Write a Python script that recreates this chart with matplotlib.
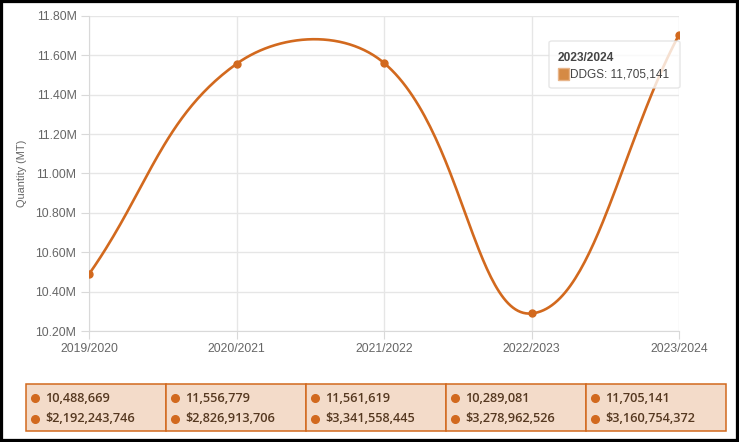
import numpy as np
import matplotlib
matplotlib.use("Agg")
import matplotlib.pyplot as plt
from matplotlib.patches import Rectangle, FancyBboxPatch
from matplotlib.lines import Line2D

# data
seasons = ["2019/2020", "2020/2021", "2021/2022", "2022/2023", "2023/2024"]
quantity = [10488669, 11556779, 11561619, 10289081, 11705141]
value_usd = [2192243746, 2826913706, 3341558445, 3278962526, 3160754372]
y_ticks = [10.2e6, 10.4e6, 10.6e6, 10.8e6, 11.0e6, 11.2e6, 11.4e6, 11.6e6, 11.8e6]

W, H = 739, 442
orange = "#d2691e"
ymin, ymax = 10.2e6, 11.8e6

fig = plt.figure(figsize=(W / 100, H / 100), dpi=100)
ax = fig.add_axes([89 / W, (H - 331) / H, 590 / W, 315 / H])

x = np.arange(len(seasons))
y = np.array(quantity, dtype=float)

# chart.js style bezier (tension 0.4), computed in pixel space
sx = 590 / (len(seasons) - 1)
sy = 315 / (ymax - ymin)
px = x * sx
py = (y - ymin) * sy
n = len(px)
cps = []
for i in range(n):
    prev = (px[max(i - 1, 0)], py[max(i - 1, 0)])
    nxt = (px[min(i + 1, n - 1)], py[min(i + 1, n - 1)])
    cur = (px[i], py[i])
    d01 = np.hypot(cur[0] - prev[0], cur[1] - prev[1])
    d12 = np.hypot(nxt[0] - cur[0], nxt[1] - cur[1])
    s01 = d01 / (d01 + d12) if d01 + d12 else 0
    s12 = d12 / (d01 + d12) if d01 + d12 else 0
    fa, fb = 0.4 * s01, 0.4 * s12
    c1 = (cur[0] - fa * (nxt[0] - prev[0]), cur[1] - fa * (nxt[1] - prev[1]))
    c2 = (cur[0] + fb * (nxt[0] - prev[0]), cur[1] + fb * (nxt[1] - prev[1]))
    cps.append((c1, c2))

t = np.linspace(0, 1, 60)[:, None]
curve = []
for i in range(n - 1):
    p0 = np.array([px[i], py[i]])
    p1 = np.array(cps[i][1])
    p2 = np.array(cps[i + 1][0])
    p3 = np.array([px[i + 1], py[i + 1]])
    seg = ((1 - t) ** 3) * p0 + 3 * ((1 - t) ** 2) * t * p1 + 3 * (1 - t) * t ** 2 * p2 + t ** 3 * p3
    curve.append(seg)
curve = np.vstack(curve)
cx = curve[:, 0] / sx
cy = curve[:, 1] / sy + ymin

ax.plot(cx, cy, color=orange, lw=1.9, solid_capstyle="round", zorder=3)
ax.plot(x, y, "o", color=orange, ms=5, zorder=4)

ax.set_xlim(0, len(seasons) - 1)
ax.set_ylim(ymin, ymax)
ax.set_xticks(x)
ax.set_xticklabels(seasons)
ax.set_yticks(y_ticks)
ax.set_yticklabels(["%.2fM" % (v / 1e6) for v in y_ticks])
ax.grid(True, color="#e6e6e6", lw=1)
ax.set_axisbelow(True)
for s in ["top", "right"]:
    ax.spines[s].set_visible(False)
for s in ["left", "bottom"]:
    ax.spines[s].set_color("#d9d9d9")
ax.tick_params(colors="#d9d9d9", labelcolor="#666666", length=6, labelsize=8.8, pad=3)
for lab in ax.get_xticklabels() + ax.get_yticklabels():
    lab.set_family("Liberation Sans")
ax.set_ylabel("Quantity (MT)", color="#666666", fontsize=7.9, family="Liberation Sans", labelpad=6)

# tooltip
tip = FancyBboxPatch((549 / W, (H - 88) / H), 131 / W, 47 / H, boxstyle="round,pad=0,rounding_size=0.004",
                     transform=fig.transFigure, facecolor="white", alpha=0.8, edgecolor="#e0e0e0", lw=1, zorder=10)
fig.add_artist(tip)
fig.text(558 / W, (H - 58) / H, seasons[-1], fontsize=8.6, fontweight="bold", color="#444444",
         family="Liberation Sans", va="center", zorder=11)
fig.add_artist(Rectangle((558 / W, (H - 80) / H), 11 / W, 12 / H, transform=fig.transFigure,
                         facecolor="#d58a45", edgecolor="#e8b58a", lw=1, zorder=11))
fig.text(570 / W, (H - 74.5) / H, "DDGS: " + format(quantity[-1], ","), fontsize=8.5, color="#444444",
         family="Liberation Sans", va="center", zorder=11)

# summary table below the chart
tx0, ty0, cw, th = 26, 384, 140, 47
for i in range(len(seasons)):
    fig.add_artist(Rectangle(((tx0 + i * cw) / W, (H - ty0 - th) / H), cw / W, th / H,
                             transform=fig.transFigure, facecolor="#f3dbc9", edgecolor=orange, lw=1.1))
    for j, txt in enumerate([format(quantity[i], ","), "$" + format(value_usd[i], ",")]):
        yy = (H - (398 + 21 * j)) / H
        fig.add_artist(Line2D([(tx0 + i * cw + 8.5) / W], [yy], marker="o", ms=5.5, color=orange,
                              transform=fig.transFigure))
        fig.text((tx0 + i * cw + 19) / W, yy, txt, fontsize=9.2, color="#553820", family="Open Sans",
                 fontweight="semibold", va="center")

# black frame
fig.add_artist(Rectangle((0, 0), 1, 1, transform=fig.transFigure, fill=False, edgecolor="black", lw=4.5))

fig.savefig("out.png", dpi=100)
